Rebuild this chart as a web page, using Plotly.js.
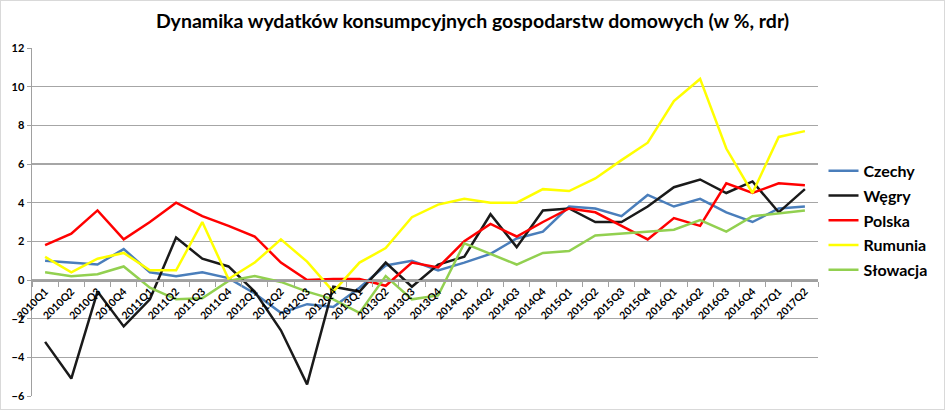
<!DOCTYPE html>
<html>
<head>
<meta charset="utf-8">
<script src="https://cdn.plot.ly/plotly-3.0.1.min.js"></script>
<style>
  body { margin: 0; background: #fff; }
  #chart { width: 943px; height: 408px; border: 1px solid #d9d9d9; }
</style>
</head>
<body>
<div id="chart"></div>
<script>
// kwartaly
var quarters = ['2010Q1','2010Q2','2010Q3','2010Q4','2011Q1','2011Q2','2011Q3','2011Q4',
  '2012Q1','2012Q2','2012Q3','2012Q4','2013Q1','2013Q2','2013Q3','2013Q4',
  '2014Q1','2014Q2','2014Q3','2014Q4','2015Q1','2015Q2','2015Q3','2015Q4',
  '2016Q1','2016Q2','2016Q3','2016Q4','2017Q1','2017Q2'];

// dynamika r/r w %
var czechy   = [1.0,0.9,0.8,1.6,0.4,0.2,0.4,0.1,-0.7,-1.7,-1.25,-1.4,-0.4,0.75,1.0,0.5,0.9,1.35,2.15,2.5,3.8,3.7,3.3,4.4,3.8,4.2,3.5,3.0,3.7,3.8];
var wegry    = [-3.2,-5.1,-0.6,-2.4,-1.0,2.2,1.1,0.7,-0.6,-2.6,-5.4,-0.35,-0.6,0.9,-0.35,0.8,1.2,3.4,1.7,3.6,3.7,3.0,3.0,3.8,4.8,5.2,4.5,5.1,3.5,4.7];
var polska   = [1.8,2.4,3.6,2.1,3.0,4.0,3.3,2.8,2.25,0.9,0.0,0.05,0.05,-0.3,0.9,0.65,2.0,2.9,2.25,3.0,3.7,3.5,2.8,2.1,3.2,2.8,5.0,4.5,5.0,4.9];
var rumunia  = [1.2,0.4,1.1,1.4,0.5,0.5,3.0,0.05,0.9,2.1,0.95,-0.6,0.9,1.65,3.25,3.9,4.2,4.0,4.0,4.7,4.6,5.25,6.2,7.1,9.25,10.4,6.8,4.5,7.4,7.7];
var slowacja = [0.4,0.2,0.3,0.7,-0.4,-1.0,-0.95,-0.05,0.2,-0.1,-0.6,-1.0,-1.7,0.2,-1.0,-0.8,1.9,1.35,0.8,1.4,1.5,2.3,2.4,2.5,2.6,3.1,2.5,3.3,3.45,3.6];

var names  = ['Czechy','Węgry','Polska','Rumunia','Słowacja'];
var series = [czechy, wegry, polska, rumunia, slowacja];
var colors = ['#4a7ebb','#1a1a1a','#ff0000','#ffff00','#92d050'];

var data = [];
series.forEach(function(s, i){
    data.push({type:'scatter', mode:'lines', x:quarters, y:s, name:names[i],
        legendgroup:'g' + i, line:{color:colors[i], width:2.5}});
});

var layout = {
    width: 943, height: 408,
    margin: {l: 31, r: 109, t: 47, b: 13},
    paper_bgcolor: '#fff', plot_bgcolor: '#fff',
    font: {family: 'Lato, "Open Sans", sans-serif', color: '#000'},
    title: {text: '<b>Dynamika wydatków konsumpcyjnych gospodarstw domowych (w %, rdr)</b>',
        xref: 'container', x: 0.5, xanchor: 'center', yref: 'container', y: 0.95, yanchor: 'middle',
        font: {size: 19.5, color: '#000'}},
    xaxis: {
        type: 'category', anchor: 'free', position: 1/3,
        showgrid: false, showline: true, linecolor: '#a0a0a0', linewidth: 1.5,
        ticks: 'outside', ticklen: 5, tickcolor: '#a0a0a0', tickson: 'boundaries',
        tickangle: -45, tickfont: {size: 10.5, weight: 'bold'},
        range: [-0.5, 29.5], zeroline: false
    },
    yaxis: {
        range: [-6, 12], dtick: 2, domain: [0, 1],
        showgrid: true, gridcolor: '#a6a6a6', gridwidth: 1.3,
        showline: true, linecolor: '#a0a0a0', linewidth: 1.5,
        ticks: 'outside', ticklen: 4, tickcolor: '#a0a0a0',
        tickfont: {size: 11, weight: 'bold'}, zeroline: false
    },
    showlegend: true,
    legend: {x: 1.007, xanchor: 'left', y: 0.505, yanchor: 'middle',
        font: {size: 16, weight: 'bold'}, bgcolor: 'rgba(0,0,0,0)', tracegroupgap: 1},
    hovermode: false
};

Plotly.newPlot('chart', data, layout, {displayModeBar: false, staticPlot: true});
</script>
</body>
</html>
